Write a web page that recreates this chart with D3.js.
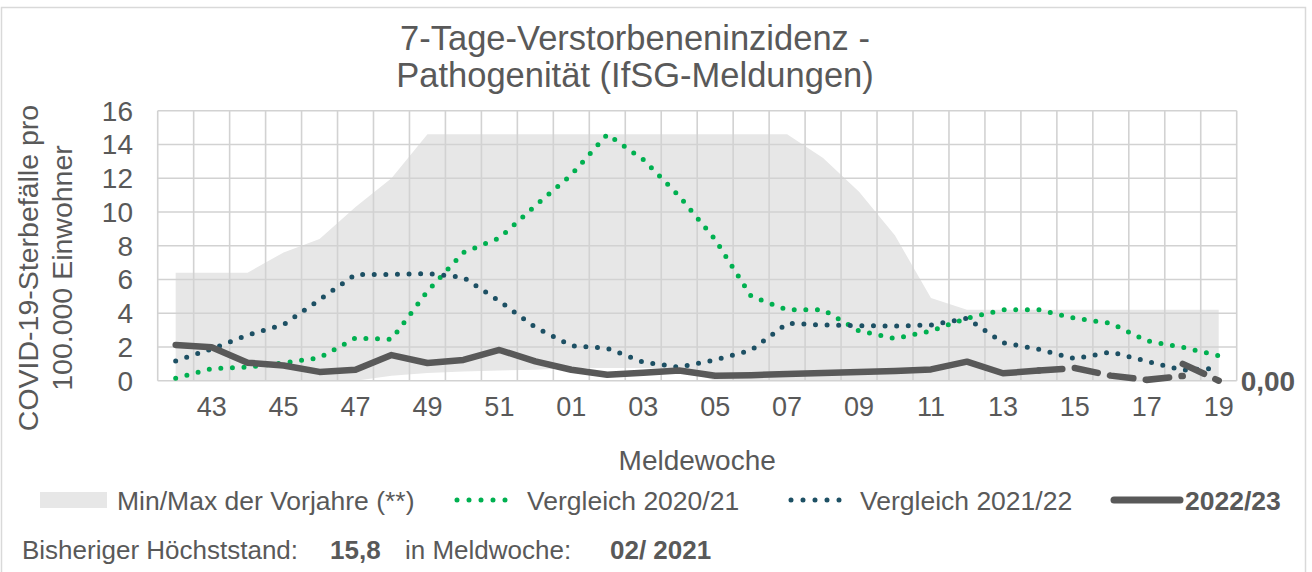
<!DOCTYPE html>
<html><head><meta charset="utf-8">
<script src="https://cdn.jsdelivr.net/npm/d3@7/dist/d3.min.js"></script>
<style>
html,body{margin:0;padding:0;background:#fff;}
svg{display:block;font-family:"Liberation Sans",Arial,sans-serif;}
</style></head>
<body>
<svg id="chart" width="1312" height="572"></svg>
<script>
// ---- data ----
const weeks = ["42","43","44","45","46","47","48","49","50","51","52","01","02","03","04","05","06","07","08","09","10","11","12","13","14","15","16","17","18","19"];
const maxPrev = [6.4,6.4,6.4,7.6,8.4,10.3,12.0,14.6,14.6,14.6,14.6,14.6,14.6,14.6,14.6,14.6,14.6,14.6,13.2,11.2,8.6,4.9,4.2,4.2,4.2,4.2,4.2,4.2,4.2,4.2];
const minPrev = [0,0,0,0,0,0,0.3,0.45,0.55,0.6,0.65,0.75,0.75,0.75,0.7,0,0,0,0,0,0,0,0,0,0,0,0,0,0,0];
const v2021 = [0.14,0.71,0.81,1.05,1.36,2.53,2.45,5.3,7.6,8.45,10.37,12.2,14.6,13.1,10.94,8.36,5.0,4.2,4.2,2.95,2.5,2.95,3.7,4.2,4.2,3.7,3.4,2.36,1.98,1.48];
const v2122 = [1.17,1.88,2.7,3.32,4.8,6.3,6.3,6.35,6.12,4.72,3.16,2.07,1.92,1.1,0.8,1.23,1.8,3.4,3.3,3.26,3.24,3.3,3.7,2.25,1.86,1.3,1.7,1.15,0.62,0.75];
const v2223 = [2.12,1.98,1.07,0.9,0.52,0.65,1.52,1.05,1.23,1.82,1.15,0.65,0.35,0.47,0.6,0.29,0.33,0.39,0.46,0.52,0.58,0.67,1.13,0.44,0.6,null,null,null,null,null];
const v2223prov = [null,null,null,null,null,null,null,null,null,null,null,null,null,null,null,null,null,null,null,null,null,null,null,null,0.6,0.75,0.3,0.05,0.28,null];
const v2223last = [null,null,null,null,null,null,null,null,null,null,null,null,null,null,null,null,null,null,null,null,null,null,null,null,null,null,null,null,1.0,0];
const yTicks = [0,2,4,6,8,10,12,14,16];
const legendLabels = ["Min/Max der Vorjahre (**)","Vergleich 2020/21","Vergleich 2021/22","2022/23"];
const titleLines = ["7-Tage-Verstorbeneninzidenz -","Pathogenität (IfSG-Meldungen)"];
const yTitleLines = ["COVID-19-Sterbefälle pro","100.000 Einwohner"];
const xTitle = "Meldewoche";
const peakValue = "15,8";
const peakWeek = "02/ 2021";

// ---- layout ----
const svg = d3.select("#chart");
const L = 157.7, R = 1236.7, T = 110.7, B = 380.7;
const txt = "#595959";
const cGreen = "#00b050", cTeal = "#1d5064", cGray = "#595959";

const x = d3.scalePoint().domain(weeks).range([L, R]).padding(0.5);
const xb = d3.scaleBand().domain(weeks).range([L, R]);
const y = d3.scaleLinear().domain([0,16]).range([B, T]);
const idx = weeks.map((w,i)=>i);

// outer border
svg.append("rect").attr("x",1.5).attr("y",7.5).attr("width",1304).attr("height",575)
  .attr("fill","none").attr("stroke","#d9d9d9").attr("stroke-width",1.5);

// area min/max
const area = d3.area().x(i=>x(weeks[i])).y0(i=>y(minPrev[i])).y1(i=>y(maxPrev[i]));
svg.append("path").attr("d", area(idx)).attr("fill","#e7e7e7");

// grid
const g = svg.append("g").attr("stroke","#d2d2d2").attr("stroke-width",1.6).attr("fill","none");
const vlines = weeks.map(w=>xb(w)).concat([R]);
g.selectAll("line.v").data(vlines).join("line").attr("class","v")
  .attr("x1",d=>d).attr("x2",d=>d).attr("y1",T).attr("y2",B);
g.selectAll("line.h").data(yTicks).join("line").attr("class","h")
  .attr("x1",L).attr("x2",R).attr("y1",d=>y(d)).attr("y2",d=>y(d));

// lines
const line = arr => d3.line().defined(i=>arr[i]!=null).x(i=>x(weeks[i])).y(i=>y(arr[i]))(idx);
svg.append("path").attr("d",line(v2021)).attr("fill","none").attr("stroke",cGreen)
  .attr("stroke-width",5).attr("stroke-linecap","round").attr("stroke-dasharray","0 11.6");
svg.append("path").attr("d",line(v2122)).attr("fill","none").attr("stroke",cTeal)
  .attr("stroke-width",5).attr("stroke-linecap","round").attr("stroke-dasharray","0 11.6");
svg.append("path").attr("d",line(v2223)).attr("fill","none").attr("stroke",cGray)
  .attr("stroke-width",6.5).attr("stroke-linejoin","round").attr("stroke-linecap","round");
svg.append("path").attr("d",line(v2223prov)).attr("fill","none").attr("stroke",cGray)
  .attr("stroke-width",6.5).attr("stroke-linecap","round").attr("stroke-dasharray","23.5 12.5");
svg.append("path").attr("d",line(v2223last)).attr("fill","none").attr("stroke",cGray)
  .attr("stroke-width",6.5).attr("stroke-linecap","round").attr("stroke-dasharray","23.5 12.5");

// last value label
const lastI = weeks.length-1;
svg.append("text").attr("x", R+4).attr("y", y(v2223last[lastI])+10)
  .attr("font-size",28).attr("font-weight","bold").attr("fill",txt)
  .text(d3.format(".2f")(v2223last[lastI]).replace(".",","));

// y ticks
svg.append("g").selectAll("text").data(yTicks).join("text")
  .attr("x",133).attr("y",d=>y(d)+10).attr("text-anchor","end")
  .attr("font-size",28).attr("fill",txt).text(d=>d);

// x ticks (every other)
svg.append("g").selectAll("text").data(weeks.filter((w,i)=>i%2===1)).join("text")
  .attr("x",d=>x(d)).attr("y",416).attr("text-anchor","middle")
  .attr("font-size",27).attr("fill",txt).text(d=>d);

// x title
svg.append("text").attr("x",(L+R)/2).attr("y",470).attr("text-anchor","middle")
  .attr("font-size",28).attr("fill",txt).text(xTitle);

// y title
yTitleLines.forEach((t,k)=>{
  svg.append("text").attr("transform",`translate(${38+k*34},268) rotate(-90)`)
    .attr("text-anchor","middle").attr("font-size",28.5).attr("fill",txt).text(t);
});

// title
titleLines.forEach((t,k)=>{
  svg.append("text").attr("x",635).attr("y",50+k*37).attr("text-anchor","middle")
    .attr("font-size",34.5).attr("fill",txt).text(t);
});

// legend
const ly = 500;
svg.append("rect").attr("x",40).attr("y",ly-8).attr("width",67).attr("height",16).attr("fill","#e7e7e7");
svg.append("text").attr("x",117).attr("y",ly+10).attr("font-size",26.5).attr("fill",txt).text(legendLabels[0]);
svg.append("line").attr("x1",457).attr("x2",517).attr("y1",ly).attr("y2",ly).attr("stroke",cGreen)
  .attr("stroke-width",5).attr("stroke-linecap","round").attr("stroke-dasharray","0 12");
svg.append("text").attr("x",527).attr("y",ly+10).attr("font-size",26.5).attr("fill",txt).text(legendLabels[1]);
svg.append("line").attr("x1",791).attr("x2",851).attr("y1",ly).attr("y2",ly).attr("stroke",cTeal)
  .attr("stroke-width",5).attr("stroke-linecap","round").attr("stroke-dasharray","0 12");
svg.append("text").attr("x",860).attr("y",ly+10).attr("font-size",26.5).attr("fill",txt).text(legendLabels[2]);
svg.append("line").attr("x1",1114).attr("x2",1180).attr("y1",ly).attr("y2",ly).attr("stroke",cGray)
  .attr("stroke-width",7).attr("stroke-linecap","round");
svg.append("text").attr("x",1185).attr("y",ly+10).attr("font-size",26.5).attr("font-weight","bold").attr("fill",txt).text(legendLabels[3]);

// bottom info
const by = 559;
svg.append("text").attr("x",22).attr("y",by).attr("font-size",26).attr("fill",txt).text("Bisheriger Höchststand:");
svg.append("text").attr("x",330).attr("y",by).attr("font-size",26).attr("font-weight","bold").attr("fill",txt).text(peakValue);
svg.append("text").attr("x",405).attr("y",by).attr("font-size",26).attr("fill",txt).text("in Meldwoche:");
svg.append("text").attr("x",610).attr("y",by).attr("font-size",26).attr("font-weight","bold").attr("fill",txt).text(peakWeek);
</script>
</body></html>
